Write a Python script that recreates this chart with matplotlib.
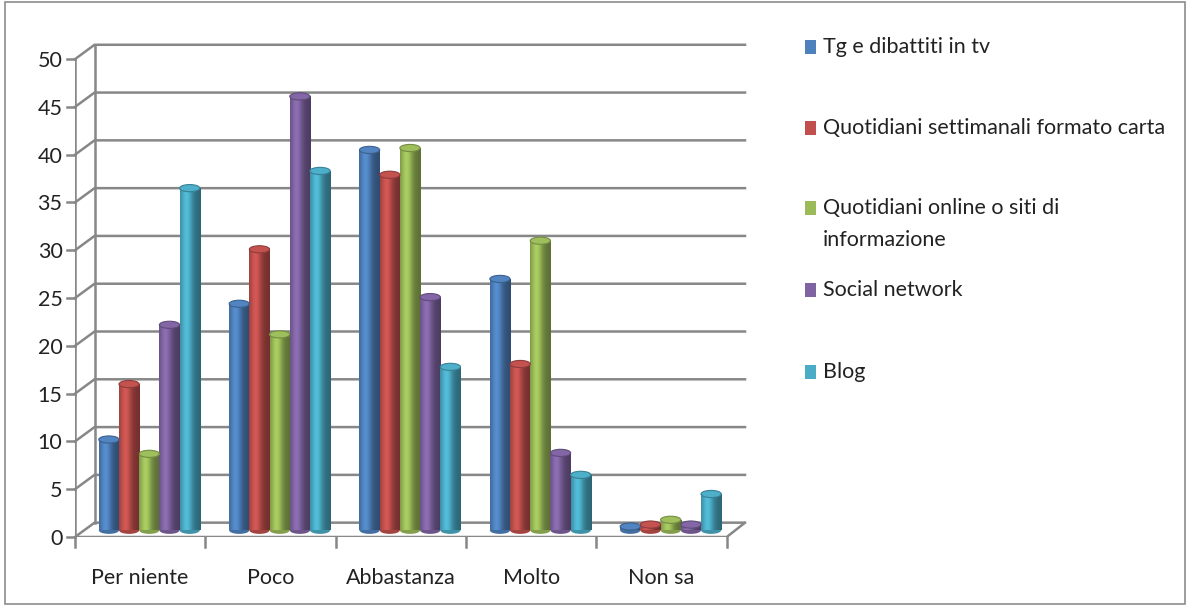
import numpy as np
import matplotlib
matplotlib.use('Agg')
import matplotlib.pyplot as plt
from matplotlib.patches import Rectangle, Ellipse
from matplotlib.colors import to_rgb

plt.rcParams['font.family'] = ['Lato', 'DejaVu Sans']

# dati
categorie = ['Per niente', 'Poco', 'Abbastanza', 'Molto', 'Non sa']
serie = [['Tg e dibattiti in tv'],
         ['Quotidiani settimanali formato carta'],
         ['Quotidiani online o siti di', 'informazione'],
         ['Social network'],
         ['Blog']]
tg_tv = [9.5, 23.7, 39.8, 26.3, 0.4]
quotidiani_carta = [15.3, 29.4, 37.2, 17.4, 0.6]
quotidiani_online = [8.0, 20.5, 40.0, 30.3, 1.1]
social_network = [21.5, 45.4, 24.4, 8.1, 0.6]
blog = [35.8, 37.6, 17.1, 5.8, 3.8]
colori = ['#4F81BD', '#C0504D', '#9BBB59', '#8064A2', '#4BACC6']

valori = [tg_tv, quotidiani_carta, quotidiani_online, social_network, blog]


def sfumatura(colore, n=40):
    # profilo orizzontale di un cilindro: scuro ai bordi, chiaro a sinistra del centro
    base = np.array(to_rgb(colore))
    t = np.linspace(0, 1, n)
    f = 0.72 + 0.42 * np.exp(-((t - 0.32) / 0.28) ** 2) - 0.12 * t
    rgb = np.clip(base[None, :] * f[:, None], 0, 1)
    return rgb[None, :, :]


fig = plt.figure(figsize=(11.9, 6.06), dpi=100)
# cornice esterna
fig.patches.append(Rectangle((0.004, 0.004), 0.992, 0.992, transform=fig.transFigure,
                             fill=False, edgecolor='#8C8C8C', linewidth=1.2))

ax = fig.add_axes([75 / 1190, 1 - 537 / 606, 670 / 1190, 497 / 606])

# effetto 3D: pareti e griglia
grigio = '#878787'
dx, dy = 0.15, 1.5
for v in range(0, 55, 5):
    ax.plot([-0.5, -0.5 + dx, 4.64], [v, v + dy, v + dy], color=grigio, lw=1.8,
            solid_joinstyle='miter', zorder=1, clip_on=False)
ax.plot([-0.5, -0.5], [0, 50], color=grigio, lw=1.8, zorder=1)
ax.plot([-0.5 + dx, -0.5 + dx], [dy, 50 + dy], color=grigio, lw=1.8, zorder=1)
ax.plot([-0.5, 4.5, 4.64], [0, 0, dy], color=grigio, lw=1.8, zorder=1)
for k in range(6):
    ax.plot([k - 0.5, k - 0.5], [0, -1.0], color=grigio, lw=1.8, clip_on=False)
for v in range(0, 55, 5):
    ax.plot([-0.5, -0.56], [v, v], color=grigio, lw=1.8, clip_on=False)

x = np.arange(len(categorie))
larghezza = 0.155
base_y = 0.7
for i, vals in enumerate(valori):
    pos = x + 0.07 + (i - 2) * larghezza
    barre = ax.bar(pos, vals, width=larghezza, bottom=base_y, color=colori[i],
                   linewidth=0, zorder=3)
    grad = sfumatura(colori[i])
    for r in barre:
        x0, w, h = r.get_x(), r.get_width(), r.get_height()
        im = ax.imshow(grad, extent=[x0, x0 + w, base_y, base_y + h], aspect='auto',
                       interpolation='bilinear', zorder=3.5)
        im.set_clip_path(r)
        top = base_y + h
        ax.add_patch(Ellipse((x0 + w / 2, top), w, 0.75,
                             facecolor=np.clip(np.array(to_rgb(colori[i])) * 1.02, 0, 1),
                             edgecolor=np.array(to_rgb(colori[i])) * 0.75, lw=0.8, zorder=4))
        ax.add_patch(Ellipse((x0 + w / 2, base_y), w, 0.75,
                             facecolor=np.array(to_rgb(colori[i])) * 0.85, lw=0, zorder=2.9))

ax.set_xlim(-0.5, 4.64)
ax.set_ylim(0, 52)
for s in ax.spines.values():
    s.set_visible(False)
ax.set_xticks(x)
ax.set_xticklabels(categorie, fontsize=15.5, color='#222222')
ax.set_yticks(range(0, 55, 5))
ax.set_yticklabels([str(v) for v in range(0, 55, 5)], fontsize=15.5, color='#222222')
ax.tick_params(length=0, pad=9)
ax.tick_params(axis='x', pad=22)

# legenda a destra, voci distribuite come nell'originale
voci_y = [[47], [128], [208, 240], [290], [372]]
for nome, ys, col in zip(serie, voci_y, colori):
    fig.patches.append(Rectangle((805 / 1190, 1 - (ys[0] + 7) / 606), 11 / 1190, 14 / 606,
                                 transform=fig.transFigure, facecolor=col, edgecolor='none'))
    for riga, yy in zip(nome, ys):
        fig.text(823 / 1190, 1 - yy / 606, riga, fontsize=15.5, color='#222222',
                 va='center', ha='left')

fig.savefig('out.png', dpi=100)
